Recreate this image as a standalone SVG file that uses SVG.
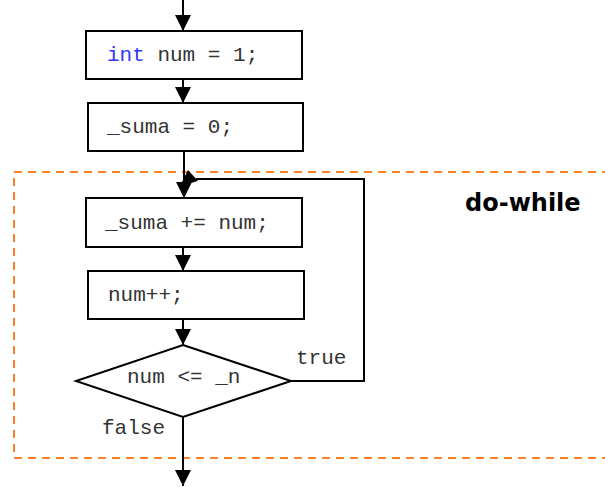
<svg xmlns="http://www.w3.org/2000/svg" width="605" height="487" viewBox="0 0 605 487">
  <style>
    .box { fill: #ffffff; stroke: #000000; stroke-width: 2; }
    .line { fill: none; stroke: #000000; stroke-width: 2; }
    .code { font-family: "Liberation Mono", "Courier New", monospace; font-size: 21px; fill: #333333; }
    .kw { fill: #3333ff; }
    .frame { fill: none; stroke: #ff7f27; stroke-width: 2; stroke-dasharray: 8 6; }
    .title { font-family: "DejaVu Sans", Verdana, sans-serif; font-weight: bold; font-size: 24px; fill: #000000; }
  </style>
  <defs>
    <marker id="arrow" viewBox="0 0 16 16" refX="16" refY="8" markerWidth="16" markerHeight="16" markerUnits="userSpaceOnUse" orient="auto">
      <path d="M0,0 L16,8 L0,16 Z" fill="#000000"/>
    </marker>
  </defs>

  <!-- loop frame -->
  <g id="loop-frame">
    <rect class="frame" x="14" y="172" width="610" height="286"/>
    <text class="title" x="465" y="211">do-while</text>
  </g>

  <!-- connectors -->
  <g id="connectors">
    <line class="line" x1="183" y1="0" x2="183" y2="31" marker-end="url(#arrow)"/>
    <line class="line" x1="183" y1="79" x2="183" y2="103" marker-end="url(#arrow)"/>
    <line class="line" x1="184" y1="151" x2="184" y2="198" marker-end="url(#arrow)"/>
    <line class="line" x1="183" y1="247" x2="183" y2="271" marker-end="url(#arrow)"/>
    <line class="line" x1="183" y1="319" x2="183" y2="345" marker-end="url(#arrow)"/>
    <polyline class="line" points="291,381 364,381 364,179 196,179"/>
    <polygon points="180,186 188,170 198,181" fill="#000000"/>
    <line class="line" x1="183" y1="417" x2="183" y2="486" marker-end="url(#arrow)"/>
    <text class="code" x="296" y="364">true</text>
    <text class="code" x="102" y="434">false</text>
  </g>

  <g id="init-num">
    <rect class="box" x="86" y="31" width="216" height="48"/>
    <text class="code" x="107" y="61"><tspan class="kw">int</tspan> num = 1;</text>
  </g>

  <g id="init-suma">
    <rect class="box" x="88" y="103" width="215" height="48"/>
    <text class="code" x="107" y="133">_suma = 0;</text>
  </g>

  <g id="add-num">
    <rect class="box" x="86" y="198" width="216" height="49"/>
    <text class="code" x="105" y="229">_suma += num;</text>
  </g>

  <g id="increment">
    <rect class="box" x="88" y="271" width="216" height="48"/>
    <text class="code" x="108" y="301">num++;</text>
  </g>

  <g id="condition">
    <polygon class="box" points="183,345 291,381 183,417 76,381"/>
    <text class="code" x="127" y="383">num &lt;= _n</text>
  </g>
</svg>
